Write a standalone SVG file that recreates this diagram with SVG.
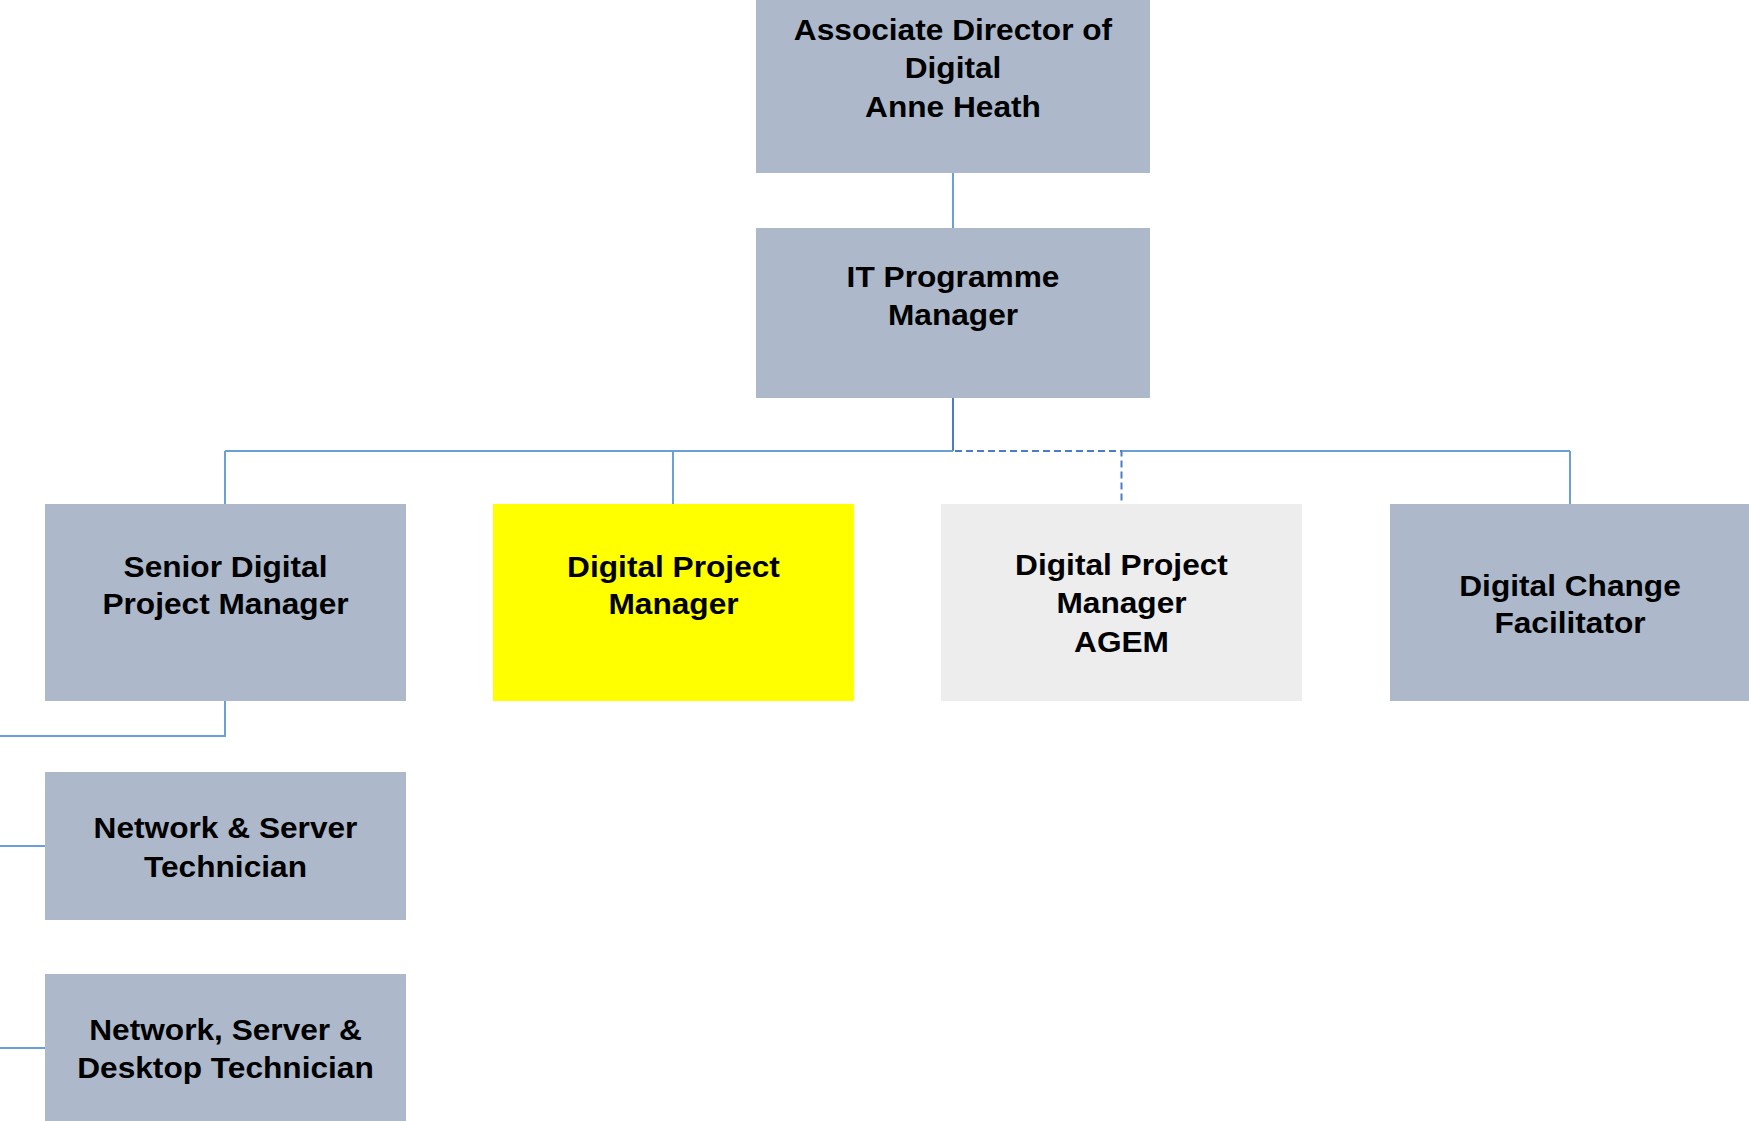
<svg xmlns="http://www.w3.org/2000/svg" width="1749" height="1121" viewBox="0 0 1749 1121">
<style>
.box{fill:#ADB9CA}
.t{font-family:"Liberation Sans",Arial,sans-serif;font-weight:bold;font-size:30px;fill:#000;text-anchor:middle}
.c{stroke:#6A9FD8;stroke-width:2;fill:none}
.cd{stroke:#4A7CC9;stroke-width:2;fill:none}
.dash{stroke:#4A7CC9;stroke-width:2;fill:none;stroke-dasharray:7 4}
</style>
<rect width="1749" height="1121" fill="#fff"/>
<g id="connectors">
<line class="c" x1="953" y1="173" x2="953" y2="228"/>
<line class="cd" x1="953" y1="398" x2="953" y2="451"/>
<line class="c" x1="225" y1="451" x2="953" y2="451"/>
<line class="c" x1="225" y1="451" x2="225" y2="504"/>
<line class="c" x1="673" y1="451" x2="673" y2="504"/>
<path class="dash" d="M955 451 H1121.5 V504"/>
<line class="c" x1="1122" y1="451" x2="1570" y2="451"/>
<line class="c" x1="1570" y1="451" x2="1570" y2="504"/>
<path class="c" d="M225 701 V736 H0"/>
<line class="c" x1="0" y1="846" x2="45" y2="846"/>
<line class="c" x1="0" y1="1048" x2="45" y2="1048"/>
</g>
<g id="n-director">
<rect class="box" x="756" y="0" width="394" height="173"/>
<text class="t" transform="translate(953,0) scale(1.055,1)"><tspan x="0" y="40">Associate Director of</tspan><tspan x="0" y="78.5">Digital</tspan><tspan x="0" y="117">Anne Heath</tspan></text>
</g>
<g id="n-itpm">
<rect class="box" x="756" y="228" width="394" height="170"/>
<text class="t" transform="translate(953,0) scale(1.055,1)"><tspan x="0" y="286.7">IT Programme</tspan><tspan x="0" y="325">Manager</tspan></text>
</g>
<g id="n-senior">
<rect class="box" x="45" y="504" width="361" height="197"/>
<text class="t" transform="translate(225.5,0) scale(1.055,1)"><tspan x="0" y="576.7">Senior Digital</tspan><tspan x="0" y="614.3">Project Manager</tspan></text>
</g>
<g id="n-dpm">
<rect x="493" y="504" width="361" height="197" fill="#FFFF00"/>
<text class="t" transform="translate(673.5,0) scale(1.055,1)"><tspan x="0" y="576.7">Digital Project</tspan><tspan x="0" y="614.3">Manager</tspan></text>
</g>
<g id="n-agem">
<rect x="941" y="504" width="361" height="197" fill="#EDEDED"/>
<text class="t" transform="translate(1121.5,0) scale(1.055,1)"><tspan x="0" y="575">Digital Project</tspan><tspan x="0" y="613.3">Manager</tspan><tspan x="0" y="652">AGEM</tspan></text>
</g>
<g id="n-dcf">
<rect class="box" x="1390" y="504" width="361" height="197"/>
<text class="t" transform="translate(1570,0) scale(1.055,1)"><tspan x="0" y="595.7">Digital Change</tspan><tspan x="0" y="633.3">Facilitator</tspan></text>
</g>
<g id="n-nst">
<rect class="box" x="45" y="772" width="361" height="148"/>
<text class="t" transform="translate(225.5,0) scale(1.055,1)"><tspan x="0" y="838.3">Network &amp; Server</tspan><tspan x="0" y="876.7">Technician</tspan></text>
</g>
<g id="n-nsdt">
<rect class="box" x="45" y="974" width="361" height="160"/>
<text class="t" transform="translate(225.5,0) scale(1.055,1)"><tspan x="0" y="1040">Network, Server &amp;</tspan><tspan x="0" y="1078.3">Desktop Technician</tspan></text>
</g>
</svg>
